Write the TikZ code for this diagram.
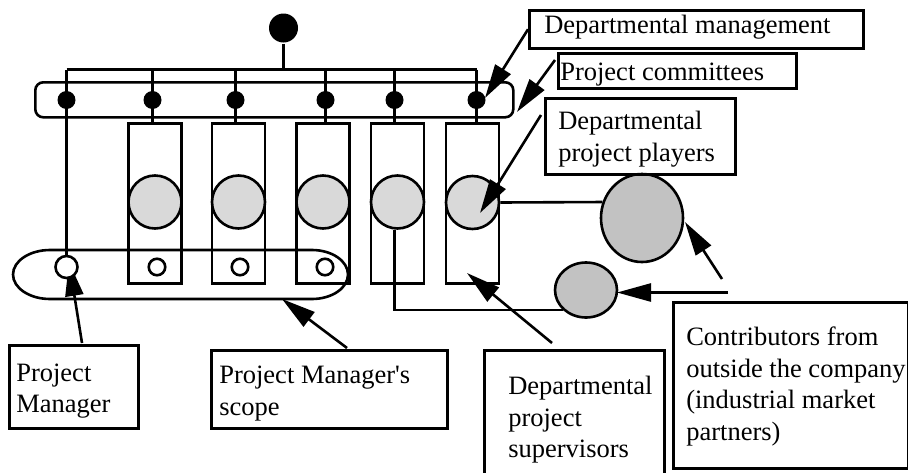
\documentclass[tikz,border=0pt]{standalone}
\usepackage{fontspec}
\setmainfont{Liberation Serif}
\usetikzlibrary{arrows.meta,shapes.geometric,calc}
\begin{document}
\begin{tikzpicture}[x=1pt,y=-1pt,line width=2.6pt,
  lbox/.style={draw, rectangle, inner sep=0pt, anchor=north west},
  ltext/.style={anchor=north west, inner sep=0pt, align=left, font=\fontsize{26.5}{31.5}\selectfont},
  bigdot/.style={circle, fill=black, inner sep=0pt, minimum size=18pt},
  gcirc/.style={circle, draw, fill=black!15, inner sep=0pt, minimum size=53pt},
  tallbox/.style={draw, rectangle, inner sep=0pt, minimum width=53pt, minimum height=160pt, anchor=north},
  ocirc/.style={circle, draw, fill=white, inner sep=0pt, minimum size=16.5pt},
  extcirc/.style={ellipse, draw, fill=black!24, inner sep=0pt},
  arr/.style={-{Triangle[length=34pt,width=18pt]}},
]
\useasboundingbox (0,0) rectangle (908,472);

% top circle and bus
\node[circle, fill=black, inner sep=0pt, minimum size=29pt] (top) at (283.5,28) {};
\coordinate (busL) at (66.5,69.5);
\coordinate (busR) at (476.5,69.5);

% committee rounded rectangle
\node[draw, rounded corners=8pt, inner sep=0pt, minimum width=478pt, minimum height=35pt, anchor=north west] (comm) at (34,81) {};

% tall boxes
\node[tallbox] (b1) at (155,122) {};
\node[tallbox] (b2) at (238.5,122) {};
\node[tallbox] (b3) at (323,122) {};
\node[tallbox] (b4) at (397.5,122) {};
\node[tallbox] (b5) at (472.5,122) {};

% grey circles
\node[gcirc] (c1) at (155,202) {};
\node[gcirc] (c2) at (238.5,202) {};
\node[gcirc] (c3) at (323,202) {};
\node[gcirc] (c4) at (397.5,202) {};
\node[gcirc] (c5) at (472.5,202.5) {};

% committee dots
\node[bigdot] (d1) at (66.5,100) {};
\node[bigdot] (d2) at (152.5,100) {};
\node[bigdot] (d3) at (235.5,100) {};
\node[bigdot] (d4) at (325.5,100) {};
\node[bigdot] (d5) at (394.5,100) {};
\node[bigdot] (d6) at (476.5,100) {};

% small open circles
\node[ocirc] (o1) at (157,267) {};
\node[ocirc] (o2) at (240,267) {};
\node[ocirc] (o3) at (325,267) {};

% outside contributors
\node[extcirc, minimum width=82pt, minimum height=88pt] (bc) at (642,218) {};
\node[extcirc, minimum width=62pt, minimum height=55pt] (sc) at (586,290) {};

% project manager's scope (stadium)
\draw (50,250) -- (312,250)
  .. controls (331.9,250) and (348,261) .. (348,274.5)
  .. controls (348,288) and (331.9,299) .. (312,299)
  -- (50,299)
  .. controls (29.6,299) and (13,288) .. (13,274.5)
  .. controls (13,261) and (29.6,250) .. (50,250) -- cycle;
\coordinate (scopetip) at (282,299);

% label boxes
\node[lbox, minimum width=334pt, minimum height=38pt] (dm) at (528,9) {};
\node[ltext] (dmt) at (543,14) {Departmental management};
\node[lbox, minimum width=238pt, minimum height=35pt] (pc) at (557,52) {};
\node[ltext] (pct) at (559,62) {Project committees};
\node[lbox, minimum width=190pt, minimum height=76pt] (pp) at (544,97) {};
\node[ltext] (ppt) at (557,110) {Departmental\\project players};
\node[lbox, minimum width=129pt, minimum height=83pt] (pm) at (8,344) {};
\node[ltext] (pmt) at (15,362.5) {Project\\Manager};
\node[lbox, minimum width=236pt, minimum height=78pt] (ps) at (210,349) {};
\node[ltext] (pst) at (218,365) {Project Manager\textquotesingle s\\scope};
\node[lbox, minimum width=180pt, minimum height=127pt] (sup) at (483,349) {};
\node[ltext] (supt) at (507,375) {Departmental\\project\\supervisors};
\node[lbox, minimum width=235pt, minimum height=166pt] (con) at (672,301) {};
\node[ltext] (cont) at (685,326) {Contributors from\\outside the company\\(industrial market\\partners)};

% arrow end points
\coordinate (dmtip) at (485,98);
\coordinate (pctip) at (517,112);
\coordinate (pptip) at (480,213);
\coordinate (bctip) at (685,222);
\coordinate (sctip) at (617,292.5);
\coordinate (suptip) at (467,273);
\coordinate (pmtip) at (69,262);
\coordinate (bcstart) at (722,279);
\coordinate (scstart) at (728,292.5);

% project manager arrow goes under the open circle
\draw[arr] ($(pm.north west)+(74,-1)$) -- (pmtip);
\node[circle, draw, fill=white, inner sep=0pt, minimum size=22pt] (pmc) at (66.5,267) {};

% connectors
\draw (top) -- (top |- busL);
\draw (busL) -- (busR);
\draw (busL) -- (pmc);
\draw (d2 |- busL) -- (d2 |- b1.north);
\draw (d3 |- busL) -- (d3 |- b2.north);
\draw (d4 |- busL) -- (d4 |- b3.north);
\draw (d5 |- busL) -- (d5 |- b4.north);
\draw (d6 |- busL) -- (d6 |- b5.north);
\draw (c5.east) -- (bc.158);
\draw (c4.south -| d5) |- ($(sc.south west)+(0,-0.5)$);

% arrows
\draw[arr] (dm.west) -- (dmtip);
\draw[arr] ($(pc.north west)+(-2,8)$) -- (pctip);
\draw[arr] ($(pp.north west)+(-3,18)$) -- (pptip);
\draw[arr] (bcstart) -- (bctip);
\draw[arr] (scstart) -- (sctip);
\draw[arr] ($(sup.north west)+(69,-6)$) -- (suptip);
\draw[arr] ($(ps.north west)+(137,-1)$) -- (scopetip);
\end{tikzpicture}
\end{document}
